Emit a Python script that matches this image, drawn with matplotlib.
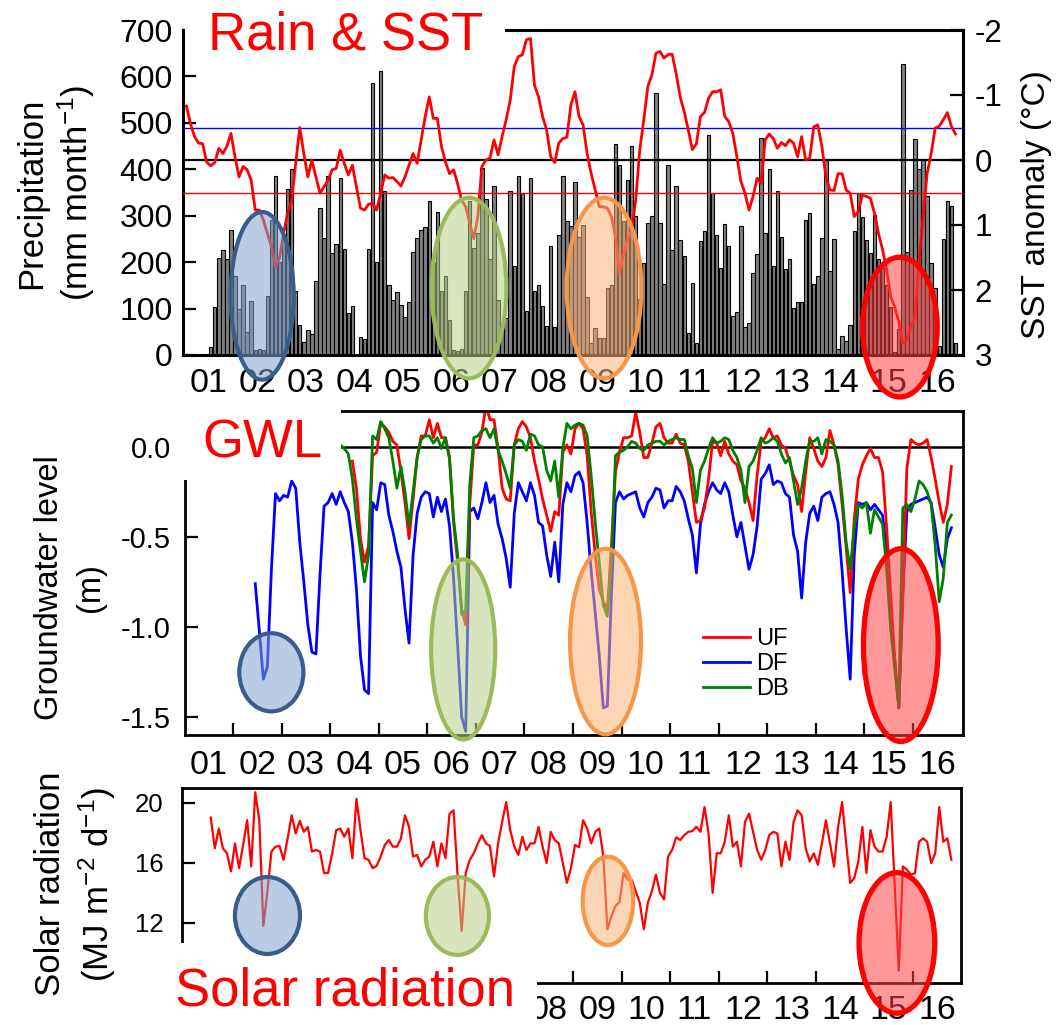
import numpy as np
import matplotlib
matplotlib.use('Agg')
import matplotlib.pyplot as plt
from matplotlib.patches import Ellipse, Rectangle
from matplotlib import font_manager as fm

plt.rcParams['font.family'] = ['Liberation Sans', 'DejaVu Sans']
plt.rcParams['mathtext.default'] = 'regular'

_names = {f.name for f in fm.fontManager.ttflist}
NARROW = 'Liberation Sans Narrow' if 'Liberation Sans Narrow' in _names else 'Liberation Sans'
BIG = 45 if NARROW == 'Liberation Sans Narrow' else 38

# ---- data (monthly, month index 0 = Jan 2001) ----
years = ['01', '02', '03', '04', '05', '06', '07', '08',
         '09', '10', '11', '12', '13', '14', '15', '16']
solar_years = years[7:]   # the lower axis only shows 08-16

rain_start = 6   # Jul 2001, mm/month
rain = [18, 104, 209, 227, 206, 270, 170, 100, 151, 49, 117, 11, 13, 11, 127, 290,
        385, 200, 255, 358, 400, 137, 65, 27, 53, 45, 160, 317, 252, 385, 219, 240,
        382, 229, 91, 106, 0, 38, 34, 228, 586, 201, 612, 353, 150, 119, 135, 108,
        81, 115, 222, 253, 270, 275, 331, 200, 307, 137, 170, 76, 11, 8, 12, 137,
        331, 230, 263, 403, 336, 206, 363, 119, 50, 79, 353, 191, 386, 349, 94, 381,
        138, 150, 106, 63, 235, 61, 259, 385, 288, 277, 373, 255, 281, 126, 25, 58,
        36, 36, 144, 150, 455, 410, 288, 376, 450, 300, 120, 199, 284, 299, 565, 284,
        153, 409, 227, 365, 248, 214, 47, 155, 25, 246, 268, 473, 350, 259, 188, 283,
        234, 83, 92, 277, 60, 70, 176, 217, 468, 263, 401, 191, 353, 254, 185, 206,
        101, 115, 115, 291, 306, 153, 170, 252, 422, 182, 250, 14, 40, 31, 65, 268,
        349, 297, 248, 219, 301, 206, 187, 150, 104, 7, 55, 627, 222, 356, 466, 401,
        421, 342, 199, 144, 20, 250, 331, 322, 25]

sst_start = 0    # SST anomaly (degC)
sst = [-0.83, -0.56, -0.36, -0.26, -0.25, 0.03, 0.09, 0.04, -0.18, -0.10, -0.21, -0.41,
       -0.05, 0.26, 0.10, 0.15, 0.31, 0.77, 0.77, 0.92, 1.13, 1.33, 1.64, 1.51,
       1.13, 0.82, 0.62, 0.05, -0.50, -0.10, 0.26, 0.00, 0.26, 0.51, 0.41, 0.31,
       0.15, 0.13, -0.15, 0.05, 0.23, 0.08, 0.41, 0.74, 0.77, 0.68, 0.67, 0.77,
       0.51, 0.23, 0.28, 0.27, 0.33, 0.40, 0.26, 0.08, -0.10, 0.05, -0.31, -0.67,
       -0.97, -0.64, -0.64, -0.21, 0.03, 0.21, 0.15, 0.36, 0.62, 0.72, 0.97, 1.21,
       0.87, 0.10, 0.00, -0.03, -0.31, -0.08, -0.36, -0.62, -0.92, -1.44, -1.59, -1.62,
       -1.85, -1.87, -1.15, -0.97, -0.67, -0.46, -0.05, 0.04, -0.26, -0.33, -0.35, -0.85,
       -1.05, -0.67, -0.54, -0.10, 0.21, 0.46, 0.72, 0.72, 0.74, 0.87, 1.18, 1.74,
       1.46, 1.23, 1.08, 0.62, -0.15, -0.62, -1.13, -1.31, -1.64, -1.67, -1.57, -1.62,
       -1.63, -1.33, -0.97, -0.74, -0.46, -0.16, -0.25, -0.67, -0.73, -0.95, -1.05, -1.05,
       -1.08, -0.67, -0.59, -0.41, -0.05, 0.33, 0.51, 0.77, 0.56, 0.28, 0.36, -0.31,
       -0.40, -0.33, -0.18, -0.27, -0.22, -0.31, -0.26, -0.05, -0.36, 0.00, -0.03, -0.51,
       -0.54, -0.21, 0.26, 0.46, 0.47, 0.21, 0.21, 0.46, 0.51, 0.87, 0.79, 0.54,
       0.56, 0.59, 0.82, 1.13, 1.38, 1.69, 2.10, 2.26, 2.49, 2.82, 2.77, 2.56,
       2.41, 1.59, 0.87, 0.21, -0.10, -0.49, -0.52, -0.62, -0.73, -0.52, -0.40]

df_start = 17    # groundwater level (m)
gwl_df = [-0.76, -1.02, -1.29, -1.22, -0.68, -0.26, -0.30, -0.27, -0.28, -0.19, -0.23, -0.53, -0.75,
          -0.99, -1.14, -1.15, -0.71, -0.33, -0.31, -0.26, -0.32, -0.25, -0.31, -0.36, -0.53,
          -0.79, -1.16, -1.35, -1.37, -0.31, -0.35, -0.20, -0.21, -0.38, -0.47, -0.58, -0.67,
          -0.90, -1.09, -0.60, -0.37, -0.28, -0.25,
          -0.26, -0.39, -0.28, -0.36, -0.29, -0.44, -0.73, -1.10, -1.50, -1.58, -0.36, -0.34,
          -0.40, -0.31, -0.20, -0.31, -0.27, -0.43, -0.51, -0.62, -0.78, -0.37, -0.20, -0.25,
          -0.30, -0.20, -0.27, -0.42, -0.44, -0.60,
          -0.72, -0.53, -0.75, -0.32, -0.20, -0.25, -0.16, -0.14, -0.20, -0.42, -0.69, -0.92,
          -1.16, -1.45, -1.44, -0.82, -0.31, -0.25, -0.29, -0.27, -0.26, -0.25, -0.34, -0.39,
          -0.31, -0.28, -0.23, -0.24, -0.34, -0.30,
          -0.30, -0.22, -0.25, -0.30, -0.40, -0.49, -0.70, -0.43, -0.32, -0.25, -0.20, -0.24,
          -0.26, -0.20, -0.25, -0.38, -0.50, -0.42, -0.55, -0.68, -0.60, -0.44, -0.18, -0.15,
          -0.10, -0.21, -0.19, -0.20, -0.26, -0.28,
          -0.49, -0.58, -0.84, -0.53, -0.37, -0.33, -0.41, -0.28, -0.26, -0.25, -0.32, -0.42,
          -0.69, -1.01, -1.29, -0.60, -0.31, -0.32, -0.31, -0.35, -0.32, -0.35, -0.38, -0.58,
          -0.92, -1.19, -1.45, -0.82, -0.36, -0.32,
          -0.31, -0.30, -0.29, -0.28, -0.31, -0.45, -0.60, -0.67, -0.51, -0.45]

uf_start = 41
gwl_uf = [-0.08, -0.23, -0.51, -0.64, -0.55, -0.05, -0.03, 0.13, 0.11, 0.08, 0.03, 0.01,
          -0.14, -0.31, -0.51, -0.29, -0.06, 0.06, 0.06,
          0.15, 0.05, 0.13, 0.05, 0.05, -0.06, -0.42, -0.64, -0.90, -0.99, -0.32, 0.01,
          0.01, 0.08, 0.23, 0.15, 0.15, -0.01, -0.23, -0.29, -0.30, 0.01, 0.10, 0.14,
          0.11, 0.05, -0.08, -0.18, -0.29, -0.38,
          -0.47, -0.36, -0.38, -0.03, 0.01, -0.04, 0.10, 0.13, 0.10, -0.05, -0.36, -0.60,
          -0.79, -0.86, -0.90, -0.55, -0.14, -0.03, 0.05, 0.05, 0.06, 0.19, 0.08, -0.06,
          -0.06, 0.02, 0.11, 0.13, 0.05, 0.02,
          0.02, 0.07, 0.02, 0.01, -0.08, -0.25, -0.42, -0.41, -0.34, -0.18, 0.03, 0.02,
          -0.05, 0.03, -0.04, -0.08, -0.10, -0.19, -0.23, -0.31, -0.41, -0.16, 0.03, 0.05,
          0.10, 0.05, 0.06, 0.01, -0.01, -0.08,
          -0.16, -0.21, -0.36, -0.14, 0.05, -0.01, -0.08, -0.11, -0.06, 0.09, 0.01, -0.10,
          -0.32, -0.56, -0.81, -0.40, -0.18, -0.10, -0.05, -0.01, -0.06, -0.06, -0.14, -0.45,
          -0.82, -1.18, -1.45, -0.82, -0.12, 0.04,
          0.02, 0.01, 0.02, 0.04, -0.06, -0.18, -0.31, -0.42, -0.32, -0.11]

db_start = 38
gwl_db = [0.01, -0.01, -0.04, -0.18, -0.40, -0.58, -0.75, -0.60, 0.06, 0.04, 0.14, 0.10,
          0.05, -0.08, -0.23, -0.11, -0.25, -0.44, -0.25, -0.06, 0.04, 0.06,
          0.06, 0.02, 0.05, -0.01, 0.05, -0.07, -0.40, -0.60, -0.93, -0.91, -0.21, 0.05,
          0.06, 0.09, 0.10, 0.05, 0.10, -0.02, -0.08, -0.15, -0.23, 0.01, 0.04, 0.03,
          -0.02, 0.07, 0.06, 0.01, 0.00, -0.13,
          -0.19, -0.08, -0.28, -0.01, 0.13, 0.10, 0.12, 0.13, 0.12, 0.06, -0.16, -0.42,
          -0.64, -0.88, -0.94, -0.64, -0.05, -0.03, -0.02, 0.00, 0.03, 0.02, -0.01, -0.02,
          0.01, 0.02, 0.03, 0.03, 0.01, 0.03,
          0.04, 0.05, 0.04, 0.04, -0.05, -0.12, -0.31, -0.13, -0.08, -0.01, 0.05, 0.02,
          0.03, 0.05, 0.04, -0.02, -0.06, -0.13, -0.31, -0.11, -0.08, -0.02, 0.05, 0.02,
          0.03, 0.05, 0.03, -0.04, -0.09, -0.06,
          -0.19, -0.32, -0.23, -0.08, 0.03, 0.03, 0.05, -0.04, 0.04, 0.03, 0.01, -0.08,
          -0.27, -0.53, -0.68, -0.45, -0.32, -0.34, -0.31, -0.48, -0.35, -0.39, -0.43, -0.68,
          -1.01, -1.23, -1.44, -0.34, -0.32, -0.36,
          -0.29, -0.19, -0.21, -0.25, -0.32, -0.55, -0.86, -0.73, -0.42, -0.38]

sun_start = 6    # solar radiation (MJ m-2 d-1)
solar = [19.01, 16.96, 18.28, 16.96, 16.63, 15.42, 17.29, 15.64, 17.18, 18.83, 15.75, 20.70,
         18.83, 11.78, 14.10, 16.74, 17.07, 17.11, 16.19, 17.62, 19.16, 17.95, 18.79, 18.06,
         18.39, 16.74, 16.85, 16.74, 15.31, 15.31, 16.63, 18.17, 18.28, 17.73, 18.28, 16.30,
         20.26, 18.17, 16.30, 16.19, 15.64, 15.79, 16.41, 17.18, 17.51, 17.07, 17.07, 17.62,
         19.16, 18.39, 16.41, 16.52, 15.75, 16.19, 16.41, 17.40, 15.75, 17.29, 16.30, 19.27,
         19.49, 15.09, 11.45, 15.31, 16.19, 16.63, 17.29, 17.84, 17.29, 17.11, 15.09, 17.29,
         18.72, 20.04, 18.17, 17.07, 16.52, 17.73, 16.85, 17.29, 17.29, 18.39, 17.07, 15.97,
         18.06, 17.51, 17.29, 15.97, 14.65, 15.64, 17.18, 17.03, 18.83, 18.28, 17.29, 18.06,
         18.28, 16.41, 11.56, 12.44, 13.11, 13.37, 15.31, 14.87, 14.87, 14.10, 13.33, 11.56,
         13.33, 14.10, 15.20, 13.99, 13.55, 16.41, 16.85, 17.69, 17.51, 17.84, 18.06, 18.11,
         18.39, 18.06, 19.71, 17.95, 13.99, 16.63, 16.63, 17.40, 19.16, 17.07, 17.40, 15.75,
         18.72, 19.27, 18.06, 16.85, 16.19, 16.85, 17.84, 18.06, 17.95, 15.75, 17.40, 16.19,
         18.72, 19.49, 19.16, 16.96, 16.08, 16.63, 15.86, 17.29, 18.83, 17.29, 15.75, 18.39,
         20.04, 17.29, 14.65, 14.98, 16.08, 18.39, 15.31, 18.17, 17.07, 16.74, 16.74, 17.73,
         20.04, 14.43, 8.81, 15.75, 15.53, 15.20, 15.31, 17.40, 17.62, 17.40, 15.97, 16.63,
         19.71, 17.40, 17.62, 16.19]


def mtime(start, n):
    return 2001 + (np.arange(start, start + n) + 0.5) / 12


W, H = 1057, 1025


def box(l, t, r, b):
    return [l / W, 1 - b / H, (r - l) / W, (b - t) / H]


def cover(ax, l, t, r, b):
    # white patch hiding part of the frame, like the original text boxes
    ax.add_patch(Rectangle((l / W, 1 - b / H), (r - l) / W, (b - t) / H,
                           transform=fig.transFigure, facecolor='white',
                           edgecolor='none', zorder=3, clip_on=False))


def oval(ax, x, y, w, h, face, edge, lw=3):
    ax.add_patch(Ellipse((x, y), w, h, facecolor=face + (0.55,), edgecolor=edge,
                         linewidth=lw, zorder=6, clip_on=False))


BLUE = ((0.50, 0.64, 0.81), '#385d8a')
GREEN = ((0.72, 0.81, 0.53), '#9bbb59')
ORANGE = ((0.98, 0.70, 0.47), '#f79646')
RED = ((1.0, 0.27, 0.27), '#ff0000')

centers = np.arange(2001.5, 2017)
bounds = np.arange(2002, 2017)
YR = 24.5   # year label size

fig = plt.figure(figsize=(W / 100, H / 100), dpi=100)

# ---------- Rain & SST ----------
ax1 = fig.add_axes(box(182.5, 30, 963.3, 355))
ax1.bar(mtime(rain_start, len(rain)), rain, width=0.85 / 12, color='#808080',
        edgecolor='black', linewidth=0.8)
ax1.set_xlim(2000.961, 2017.037)
ax1.set_ylim(0, 700)
ax1.set_yticks(range(0, 701, 100))
ax1.tick_params(axis='y', direction='in', length=9.5, width=1.6, labelsize=23, pad=7)
ax1.set_xticks(centers, years, fontfamily=NARROW, fontsize=YR)
ax1.tick_params(axis='x', length=0, pad=9)
for s in ax1.spines.values():
    s.set_linewidth(2.2)
cover(ax1, 185, 0, 505, 34)

ax1r = ax1.twinx()
ax1r.plot(mtime(sst_start, len(sst)), sst, color='#ff0000', lw=2.0, zorder=3)
ax1r.axhline(-0.5, color='#0000ff', lw=1.0, zorder=2)
ax1r.axhline(0, color='black', lw=1.6, zorder=2)
ax1r.axhline(0.5, color='#ff0000', lw=1.0, zorder=2)
ax1r.set_ylim(3, -2)
ax1r.set_yticks(range(-2, 4), ['-2', '-1', '0', '1', '2', '3'])
ax1r.tick_params(axis='y', direction='in', length=9.5, width=1.6, labelsize=22.5, pad=8)
for k in ['top', 'left', 'bottom']:
    ax1r.spines[k].set_visible(False)
ax1r.spines['right'].set_linewidth(2.2)

oval(ax1r, 2002.60, 2.09, 1.30, 2.58, *BLUE)
oval(ax1r, 2006.86, 1.97, 1.54, 2.78, *GREEN)
oval(ax1r, 2009.64, 1.97, 1.54, 2.78, *ORANGE)
oval(ax1r, 2015.73, 2.57, 1.54, 2.15, *RED, lw=3.8)

# ---------- GWL ----------
ax2 = fig.add_axes(box(185, 410.7, 963.3, 735))
l_df, = ax2.plot(mtime(df_start, len(gwl_df)), gwl_df, color='#0000ff', lw=2.0)
l_uf, = ax2.plot(mtime(uf_start, len(gwl_uf)), gwl_uf, color='#ff0000', lw=2.0)
l_db, = ax2.plot(mtime(db_start, len(gwl_db)), gwl_db, color='#008000', lw=2.0)
ax2.axhline(0, color='black', lw=1.8, zorder=1.5)
ax2.set_xlim(2001.012, 2017.037)
ax2.set_ylim(-1.6, 0.2)
ax2.set_yticks([0, -0.5, -1.0, -1.5], ['0.0', '-0.5', '-1.0', '-1.5'])
ax2.tick_params(axis='y', direction='in', length=9, width=1.6, labelsize=21, pad=10)
ax2.set_xticks(bounds, [])
ax2.set_xticks(centers, years, minor=True, fontfamily=NARROW, fontsize=YR)
ax2.tick_params(axis='x', which='major', direction='in', length=9, width=1.6)
ax2.tick_params(axis='x', which='minor', length=0, pad=11)
for s in ax2.spines.values():
    s.set_linewidth(2)
cover(ax2, 176, 398, 341, 480)
ax2.legend([l_uf, l_df, l_db], ['UF', 'DF', 'DB'], loc='center left',
           bbox_to_anchor=((703 - 185) / 778.3, (735 - 664) / 324.3),
           frameon=False, prop={'family': NARROW, 'size': 17},
           handlelength=2.0, handletextpad=0.25, labelspacing=0.12,
           borderpad=0, borderaxespad=0)

oval(ax2, 2002.79, -1.252, 1.32, 0.434, *BLUE)
oval(ax2, 2006.74, -1.125, 1.32, 1.00, *GREEN)
oval(ax2, 2009.67, -1.081, 1.46, 1.03, *ORANGE)
oval(ax2, 2015.75, -1.101, 1.54, 1.07, *RED, lw=3.8)

# ---------- Solar radiation ----------
ax3 = fig.add_axes(box(181.7, 788.3, 960.7, 982.7))
ax3.plot(mtime(sun_start, len(solar)), solar, color='#ff0000', lw=1.6)
ax3.set_xlim(2000.944, 2016.983)
ax3.set_ylim(8.0, 20.96)
ax3.set_yticks([12, 16, 20])
ax3.tick_params(axis='y', direction='in', length=9, width=1.6, labelsize=18.5, pad=13)
ax3.set_xticks(bounds, [])
ax3.set_xticks(centers[7:], solar_years, minor=True, fontfamily=NARROW, fontsize=YR)
ax3.tick_params(axis='x', which='major', direction='in', length=9, width=1.6)
ax3.tick_params(axis='x', which='minor', length=0, pad=9)
for s in ax3.spines.values():
    s.set_linewidth(2)
cover(ax3, 130, 943, 537, 1025)

oval(ax3, 2002.71, 12.48, 1.34, 5.13, *BLUE)
oval(ax3, 2006.62, 12.45, 1.30, 5.20, *GREEN)
oval(ax3, 2009.72, 13.46, 1.04, 5.89, *ORANGE)
oval(ax3, 2015.67, 10.65, 1.56, 9.37, *RED, lw=3.8)

# ---------- labels ----------
fig.text(56 / W, 1 - 193 / H, 'Precipitation\n(mm month$^{-1}$)', rotation=90,
         ha='center', va='center', fontsize=25, linespacing=1.25)
fig.text(70 / W, 1 - 588 / H, 'Groundwater level\n(m)', rotation=90,
         ha='center', va='center', fontsize=23.5, linespacing=1.4)
fig.text(76 / W, 1 - 884 / H, 'Solar radiation\n(MJ m$^{-2}$ d$^{-1}$)', rotation=90,
         ha='center', va='center', fontsize=25, linespacing=1.3)
fig.text(1037 / W, 1 - 205 / H, 'SST anomaly (\u00b0C)', rotation=90,
         ha='center', va='center', fontsize=24)

fig.text(208 / W, 1 - 50 / H, 'Rain & SST', color='#ff0000', fontsize=BIG,
         fontfamily=NARROW, ha='left', va='baseline', zorder=10)
fig.text(202 / W, 1 - 458 / H, 'GWL', color='#ff0000', fontsize=BIG,
         fontfamily=NARROW, ha='left', va='baseline', zorder=10)
fig.text(175 / W, 1 - 1005 / H, 'Solar radiation', color='#ff0000', fontsize=BIG,
         fontfamily=NARROW, ha='left', va='baseline', zorder=10)

fig.savefig('out.png', dpi=100)
